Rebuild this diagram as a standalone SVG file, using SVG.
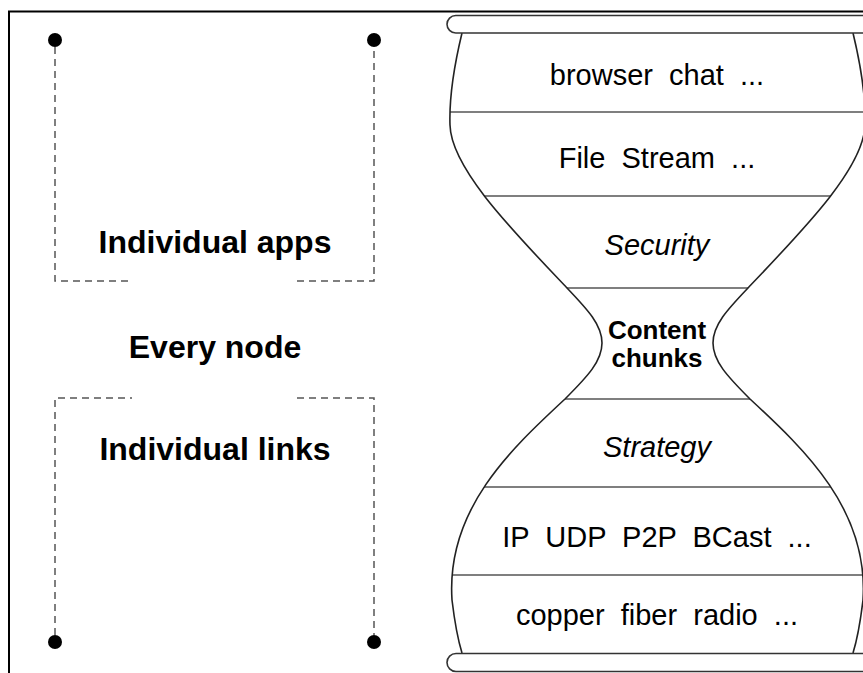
<svg xmlns="http://www.w3.org/2000/svg" width="863" height="673" viewBox="0 0 863 673">
  <style>
    .frame { fill: none; stroke: #000; stroke-width: 2; }
    .dash { fill: none; stroke: #555; stroke-width: 1.5; stroke-dasharray: 7 5; }
    .dot { fill: #000; }
    .side { fill: none; stroke: #222; stroke-width: 1.6; }
    .divider { stroke: #555; stroke-width: 1.5; }
    .bar { fill: #fff; stroke: #333; stroke-width: 1.6; }
    text { font-family: "Liberation Sans", Arial, Helvetica, sans-serif; fill: #000; text-anchor: middle; }
    .big { font-size: 32px; font-weight: bold; }
    .layer { font-size: 29px; }
    .ital { font-size: 29px; font-style: italic; }
    .waist { font-size: 26px; font-weight: bold; }
  </style>
  <defs>
    <!-- left half of the hourglass outline; the right half is its mirror about x=657.5 -->
    <path id="half" d="M462,33 C455,62 449,95 450,125 C451,168 512,230 567,288 C588,310 602,325 602,343 C602,361 588,376 565,399 C510,450 446,510 452,600 C455,625 458,640 462,653"/>
    <clipPath id="glass">
      <path d="M462,33 C455,62 449,95 450,125 C451,168 512,230 567,288 C588,310 602,325 602,343 C602,361 588,376 565,399 C510,450 446,510 452,600 C455,625 458,640 462,653 L853,653 C857,640 860,625 863,600 C869,510 805,450 750,399 C727,376 713,361 713,343 C713,325 727,310 748,288 C803,230 864,168 865,125 C866,95 860,62 853,33 Z"/>
    </clipPath>
  </defs>

  <rect width="863" height="673" fill="#fff"/>

  <!-- outer frame -->
  <path class="frame" d="M9,673 V11.5 H863"/>

  <!-- dashed brackets around the per-node stack -->
  <g id="connectors">
    <path class="dash" d="M55,47 V281 H132 M297,281 H374 V47"/>
    <path class="dash" d="M55,635 V398 H132 M297,398 H374 V635"/>
  </g>

  <g id="endpoints">
    <circle class="dot" cx="55" cy="40" r="7"/>
    <circle class="dot" cx="374" cy="40" r="7"/>
    <circle class="dot" cx="55" cy="642" r="7"/>
    <circle class="dot" cx="374" cy="642" r="7"/>
  </g>

  <g id="individual-apps"><text class="big" x="215" y="253">Individual apps</text></g>
  <g id="every-node"><text class="big" x="215" y="358">Every node</text></g>
  <g id="individual-links"><text class="big" x="215" y="460">Individual links</text></g>

  <!-- hourglass -->
  <g id="hourglass">
    <g clip-path="url(#glass)">
      <line class="divider" x1="440" y1="112" x2="880" y2="112"/>
      <line class="divider" x1="440" y1="196" x2="880" y2="196"/>
      <line class="divider" x1="440" y1="288" x2="880" y2="288"/>
      <line class="divider" x1="440" y1="399" x2="880" y2="399"/>
      <line class="divider" x1="440" y1="487" x2="880" y2="487"/>
      <line class="divider" x1="440" y1="575" x2="880" y2="575"/>
    </g>
    <use href="#half" class="side"/>
    <use href="#half" class="side" transform="translate(1315,0) scale(-1,1)"/>
    <rect class="bar" x="447" y="15.5" width="425" height="17.5" rx="8.75"/>
    <rect class="bar" x="447" y="653.5" width="425" height="18" rx="9"/>
  </g>

  <g id="layer-apps"><text class="layer" x="657" y="85" xml:space="preserve">browser  chat  ...</text></g>
  <g id="layer-services"><text class="layer" x="657" y="168" xml:space="preserve">File  Stream  ...</text></g>
  <g id="layer-security"><text class="ital" x="657" y="255">Security</text></g>
  <g id="layer-content"><text class="waist" x="657" y="339">Content</text><text class="waist" x="657" y="367">chunks</text></g>
  <g id="layer-strategy"><text class="ital" x="657" y="457">Strategy</text></g>
  <g id="layer-transport"><text class="layer" x="657" y="547" xml:space="preserve">IP  UDP  P2P  BCast  ...</text></g>
  <g id="layer-physical"><text class="layer" x="657" y="625" xml:space="preserve">copper  fiber  radio  ...</text></g>
</svg>
